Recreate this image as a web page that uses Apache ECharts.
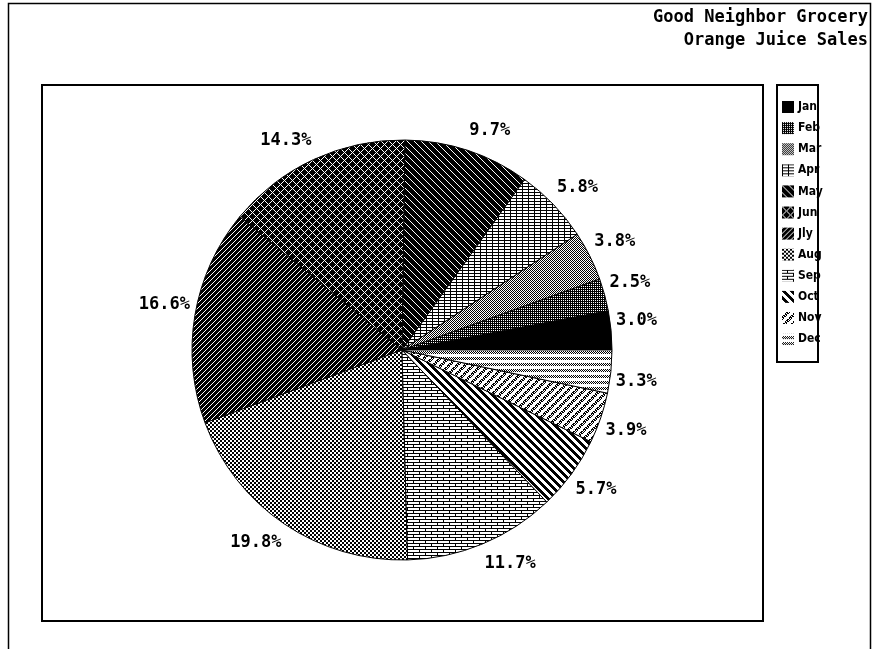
<!DOCTYPE html>
<html>
<head>
<meta charset="utf-8">
<title>Orange Juice Sales</title>
<script src="https://cdn.jsdelivr.net/npm/echarts@6.0.0/dist/echarts.min.js"></script>
<style>
  html, body { margin: 0; padding: 0; background: #fff; }
  #chart { width: 877px; height: 649px; }
</style>
</head>
<body>
<div id="chart"></div>
<script>
// Monthly share of orange juice sales (percent of the year)
const months = ['Jan', 'Feb', 'Mar', 'Apr', 'May', 'Jun', 'Jly', 'Aug', 'Sep', 'Oct', 'Nov', 'Dec'];
const sharePct = [3.0, 2.5, 3.8, 5.8, 9.7, 14.3, 16.6, 19.8, 11.7, 5.7, 3.9, 3.3];
const titleLines = ['Good Neighbor Grocery', 'Orange Juice Sales'];

// Layout constants
const PIE_CX = 402, PIE_CY = 350, PIE_R = 210;
const LABEL_GAP_X = 5, LABEL_GAP_Y = 12;
const FONT = '"DejaVu Sans Mono", "Liberation Mono", monospace';
const LEGEND_FONT = '"DejaVu Sans Condensed", "DejaVu Sans Mono", monospace';

// Build a repeating black/white fill from a pixel rule
function pattern(w, h, isBlack) {
  const c = document.createElement('canvas');
  c.width = w; c.height = h;
  const ctx = c.getContext('2d');
  ctx.fillStyle = '#fff';
  ctx.fillRect(0, 0, w, h);
  ctx.fillStyle = '#000';
  for (let y = 0; y < h; y++) {
    for (let x = 0; x < w; x++) {
      if (isBlack(x, y)) ctx.fillRect(x, y, 1, 1);
    }
  }
  return { image: c, repeat: 'repeat' };
}
const mod = (a, n) => ((a % n) + n) % n;

const fills = [
  '#000',                                                        // Jan: solid
  pattern(4, 4, (x, y) => !(x % 2 === 1 && y % 2 === 0)),         // Feb: dense dither
  pattern(2, 2, (x, y) => (x + y) % 2 === 0),                     // Mar: fine checker
  pattern(6, 3, (x, y) => y === 0 || x === 0),                    // Apr: open grid
  pattern(7, 7, (x, y) => mod(x - y, 7) !== 0),                   // May: white back-diagonals on black
  pattern(8, 8, (x, y) => mod(x - y, 8) !== 0 && mod(x + y, 8) !== 0), // Jun: diamond lattice
  pattern(5, 5, (x, y) => mod(x + y, 5) !== 0),                   // Jly: white diagonals on black
  pattern(4, 4, (x, y) => ((x >> 1) + (y >> 1)) % 2 === 0),       // Aug: coarse checker
  pattern(12, 6, (x, y) => y % 3 === 0 || (y < 3 ? x === 5 : x === 11)), // Sep: brick
  pattern(8, 8, (x, y) => mod(x - y, 8) < 4),                     // Oct: bold back-diagonal stripes
  pattern(8, 8, (x, y) => mod(x + y, 8) >= 4 && (x + 2 * y) % 3 !== 0), // Nov: dithered diagonal bands
  pattern(2, 6, (x, y) => y >= 3 && (x + y) % 2 === 0)            // Dec: dithered horizontal bands
];

const total = sharePct.reduce((a, b) => a + b, 0);

const chart = echarts.init(document.getElementById('chart'), null, { renderer: 'canvas' });

chart.setOption({
  animation: false,
  backgroundColor: '#fff',
  graphic: [
    // outer frame
    { type: 'rect', silent: true, shape: { x: 8.5, y: 3.5, width: 862, height: 700 },
      style: { fill: 'none', stroke: '#000', lineWidth: 1.5 } },
    // plot frame
    { type: 'rect', silent: true, shape: { x: 42, y: 85, width: 721, height: 536 },
      style: { fill: 'none', stroke: '#000', lineWidth: 2 } },
    // legend frame
    { type: 'rect', silent: true, shape: { x: 777, y: 85, width: 41, height: 277 },
      style: { fill: 'none', stroke: '#000', lineWidth: 2 } },
    { type: 'text', silent: true,
      style: { text: titleLines[0], x: 868, y: 18, align: 'right', verticalAlign: 'middle',
               font: 'bold 17px ' + FONT, fill: '#000' } },
    { type: 'text', silent: true,
      style: { text: titleLines[1], x: 868, y: 41, align: 'right', verticalAlign: 'middle',
               font: 'bold 17px ' + FONT, fill: '#000' } }
  ],
  legend: {
    orient: 'vertical',
    left: 782,
    top: 101,
    padding: 0,
    itemWidth: 12,
    itemHeight: 12,
    itemGap: 9.1,
    icon: 'rect',
    selectedMode: false,
    itemStyle: { borderWidth: 0 },
    textStyle: { fontFamily: LEGEND_FONT, fontWeight: 'bold', fontSize: 12, color: '#000', padding: [0, 0, 0, -1] },
    data: months
  },
  series: [{
    type: 'pie',
    center: [PIE_CX, PIE_CY],
    radius: PIE_R,
    startAngle: 0,
    clockwise: false,
    avoidLabelOverlap: false,
    emphasis: { disabled: true },
    itemStyle: { borderColor: '#000', borderWidth: 1 },
    label: {
      show: true,
      position: 'outside',
      formatter: p => sharePct[p.dataIndex].toFixed(1) + '%',
      fontFamily: FONT,
      fontWeight: 'bold',
      fontSize: 17,
      color: '#000'
    },
    labelLine: { show: false },
    // each label's nearest corner sits just outside the rim, on its slice's bisector
    labelLayout: function (p) {
      let before = 0;
      for (let i = 0; i < p.dataIndex; i++) before += sharePct[i];
      const mid = (before + sharePct[p.dataIndex] / 2) / total * 2 * Math.PI;
      const c = Math.cos(mid), s = Math.sin(mid);
      return {
        x: PIE_CX + (PIE_R + LABEL_GAP_X) * c,
        y: PIE_CY - (PIE_R + LABEL_GAP_Y) * s,
        align: c >= 0 ? 'left' : 'right',
        verticalAlign: s >= 0 ? 'bottom' : 'top'
      };
    },
    data: months.map((m, i) => ({ name: m, value: sharePct[i], itemStyle: { color: fills[i] } }))
  }]
});
</script>
</body>
</html>
